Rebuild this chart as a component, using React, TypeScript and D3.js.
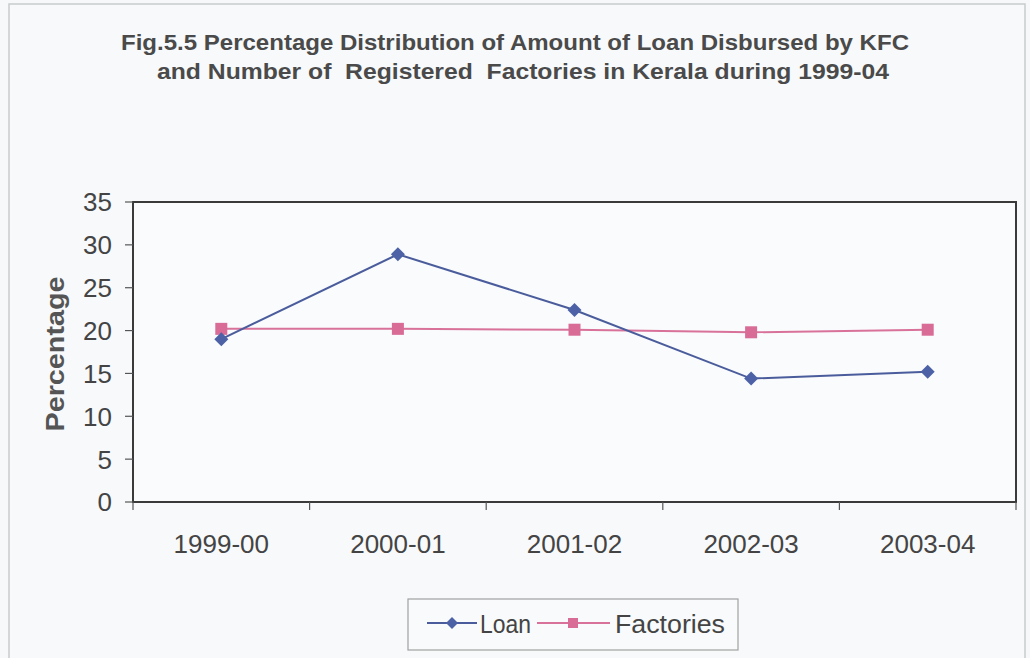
import React from "react";
import * as d3 from "d3";

const categories = ["1999-00", "2000-01", "2001-02", "2002-03", "2003-04"];
const loanValues = [19.0, 28.9, 22.4, 14.4, 15.2];
const factoryValues = [20.2, 20.2, 20.1, 19.8, 20.1];
const yTicks = [0, 5, 10, 15, 20, 25, 30, 35];
const titleLines = [
  "Fig.5.5 Percentage Distribution of Amount of Loan Disbursed by KFC",
  "and Number of  Registered  Factories in Kerala during 1999-04",
];
const yLabel = "Percentage";
const seriesNames = ["Loan", "Factories"];

const W = 1030;
const H = 658;
const plot = { left: 133, right: 1016, top: 202, bottom: 502 };
const LOAN = "#4a5c9c";
const LOAN_M = "#4d62a6";
const FACT = "#d9729a";
const FACT_M = "#d96c97";
const TEXT = "#444";
const FONT = "'Liberation Sans', Arial, sans-serif";

export default function App() {
  const x = d3.scaleBand().domain(categories).range([plot.left, plot.right]);
  const y = d3.scaleLinear().domain([0, 35]).range([plot.bottom, plot.top]);
  const cx = (c: string) => (x(c) as number) + x.bandwidth() / 2;
  const line = d3
    .line<number>()
    .x((_, i) => cx(categories[i]))
    .y((d) => y(d));
  const diamond = (px: number, py: number, r: number) =>
    `M${px},${py - r}L${px + r},${py}L${px},${py + r}L${px - r},${py}Z`;

  const boundaries = categories.map((c) => x(c) as number).concat([plot.right]);

  return (
    <svg
      width={W}
      height={H}
      style={{ position: "absolute", left: 0, top: 0, background: "#f6f8fa" }}
      fontFamily={FONT}
    >
      <rect x={0} y={0} width={W} height={H} fill="#f6f8fa" />
      <rect x={9} y={4} width={1016} height={660} fill="#f7f9fb" stroke="#c9cbcd" strokeWidth={1.5} />
      {titleLines.map((t, i) => (
        <text
          key={i}
          x={i === 0 ? 515 : 523}
          y={i === 0 ? 50 : 79}
          textAnchor="middle"
          fontSize={22}
          fontWeight="bold"
          fill="#4a4a4a"
          textLength={i === 0 ? 788 : 732}
          lengthAdjust="spacingAndGlyphs"
          style={{ whiteSpace: "pre" }}
        >
          {t}
        </text>
      ))}
      <rect
        x={plot.left}
        y={plot.top}
        width={plot.right - plot.left}
        height={plot.bottom - plot.top}
        fill="#f9fbfc"
        stroke="#3a3a3a"
        strokeWidth={2}
      />
      {yTicks.map((t) => (
        <g key={t}>
          <line x1={plot.left - 8} x2={plot.left} y1={y(t)} y2={y(t)} stroke="#555" strokeWidth={1.2} />
          <text x={112} y={y(t)} dy="0.36em" textAnchor="end" fontSize={26} fill={TEXT}>
            {t}
          </text>
        </g>
      ))}
      {boundaries.map((b, i) => (
        <line key={i} x1={b} x2={b} y1={plot.bottom} y2={plot.bottom + 8} stroke="#555" strokeWidth={1.2} />
      ))}
      {categories.map((c) => (
        <text key={c} x={cx(c)} y={553} textAnchor="middle" fontSize={26} fill={TEXT}>
          {c}
        </text>
      ))}
      <text
        transform={`translate(64,354) rotate(-90)`}
        textAnchor="middle"
        fontSize={25}
        fontWeight="bold"
        fill="#555"
        textLength={155}
        lengthAdjust="spacingAndGlyphs"
      >
        {yLabel}
      </text>
      <path d={line(factoryValues) || ""} fill="none" stroke={FACT} strokeWidth={2} />
      <path d={line(loanValues) || ""} fill="none" stroke={LOAN} strokeWidth={2} />
      {factoryValues.map((v, i) => (
        <rect key={i} x={cx(categories[i]) - 6} y={y(v) - 6} width={12} height={12} fill={FACT_M} />
      ))}
      {loanValues.map((v, i) => (
        <path key={i} d={diamond(cx(categories[i]), y(v), 7)} fill={LOAN_M} />
      ))}
      <g>
        <rect x={408} y={599} width={330} height={51} fill="#f8fafb" stroke="#a0a0a0" strokeWidth={1.2} />
        <line x1={427} x2={477} y1={623} y2={623} stroke={LOAN} strokeWidth={2} />
        <path d={diamond(452, 623, 6)} fill={LOAN_M} />
        <text x={480} y={633} fontSize={26} fill={TEXT} textLength={51} lengthAdjust="spacingAndGlyphs">
          {seriesNames[0]}
        </text>
        <line x1={537} x2={610} y1={623} y2={623} stroke={FACT} strokeWidth={2} />
        <rect x={568} y={618} width={10} height={10} fill={FACT_M} />
        <text x={615} y={633} fontSize={26} fill={TEXT} textLength={110} lengthAdjust="spacingAndGlyphs">
          {seriesNames[1]}
        </text>
      </g>
    </svg>
  );
}
